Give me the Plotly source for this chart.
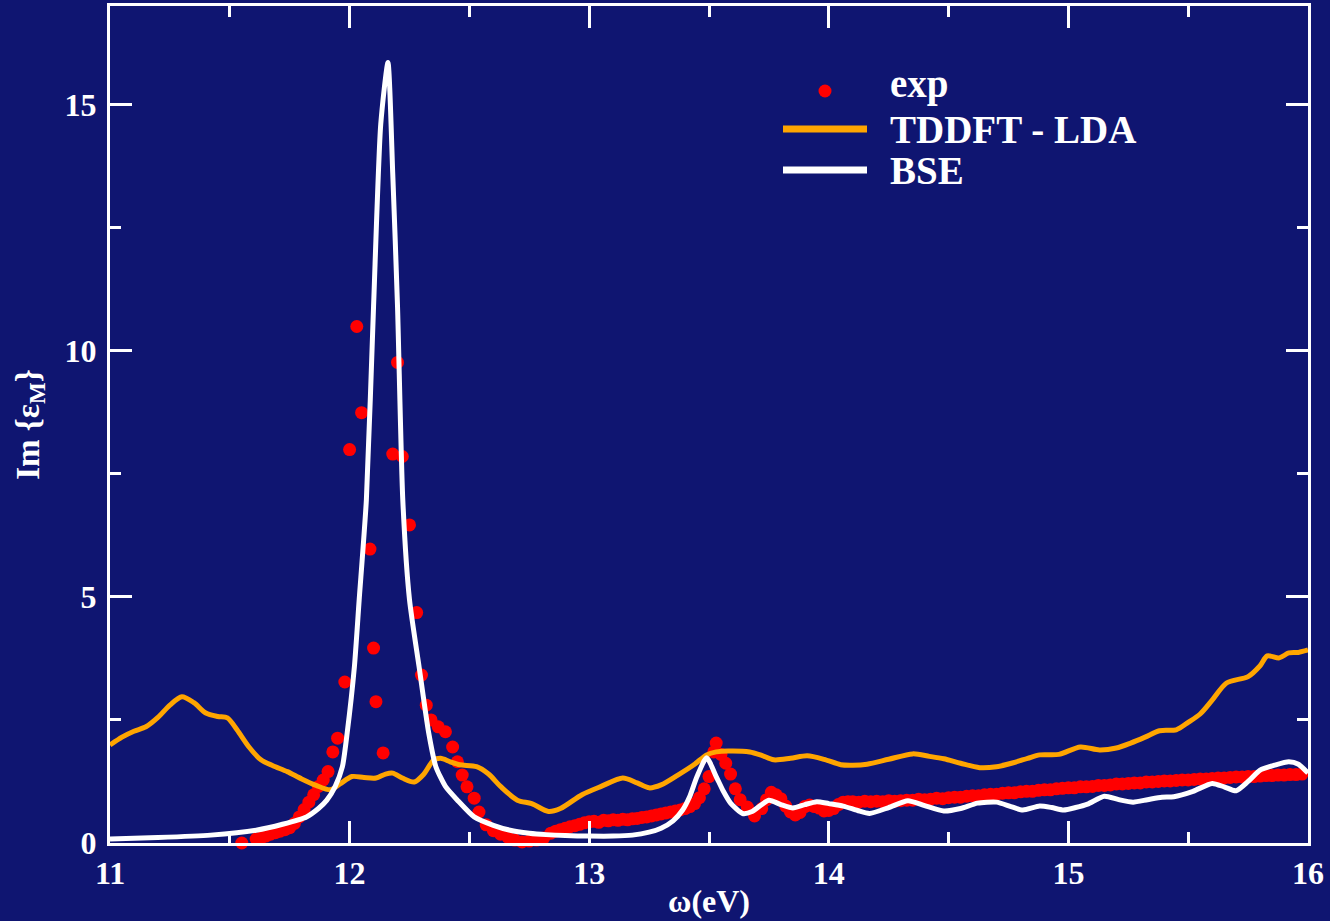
import plotly.graph_objects as go

# ---------------- data ----------------
exp_x = [11.55, 11.61, 11.63, 11.65, 11.67, 11.69, 11.71, 11.73, 11.75, 11.77, 11.79, 11.81,
         11.83, 11.85, 11.87, 11.89, 11.91, 11.93, 11.95, 11.98, 12.00, 12.03, 12.05, 12.085,
         12.10, 12.11, 12.14, 12.18, 12.20, 12.22, 12.25, 12.28, 12.30, 12.32, 12.34, 12.37,
         12.40, 12.43, 12.45, 12.47, 12.49, 12.52, 12.54, 12.57, 12.60, 12.63, 12.66, 12.69,
         12.72, 12.75, 12.78, 12.81, 12.84, 12.86, 12.88, 12.90, 12.92, 12.94, 12.96, 12.98,
         13.00, 13.02, 13.04, 13.06, 13.08, 13.10, 13.12, 13.14, 13.16, 13.18, 13.20, 13.22,
         13.24, 13.26, 13.28, 13.30, 13.32, 13.34, 13.36, 13.38, 13.40, 13.42, 13.44, 13.46,
         13.48, 13.50, 13.52, 13.53, 13.55, 13.57, 13.59, 13.61, 13.63, 13.66, 13.69, 13.72,
         13.74, 13.76, 13.78, 13.80, 13.82, 13.84, 13.86, 13.88, 13.90, 13.92, 13.94, 13.96,
         13.98, 14.00, 14.02, 14.04, 14.06, 14.08,
         14.100, 14.125, 14.150, 14.175, 14.200, 14.225, 14.250, 14.275, 14.300, 14.325,
         14.350, 14.375, 14.400, 14.425, 14.450, 14.475, 14.500, 14.525, 14.550, 14.575,
         14.600, 14.625, 14.650, 14.675, 14.700, 14.725, 14.750, 14.775, 14.800, 14.825,
         14.850, 14.875, 14.900, 14.925, 14.950, 14.975, 15.000, 15.025, 15.050, 15.075,
         15.100, 15.125, 15.150, 15.175, 15.200, 15.225, 15.250, 15.275, 15.300, 15.325,
         15.350, 15.375, 15.400, 15.425, 15.450, 15.475, 15.500, 15.525, 15.550, 15.575,
         15.600, 15.625, 15.650, 15.675, 15.700, 15.725, 15.750, 15.775, 15.800, 15.825,
         15.850, 15.875, 15.900, 15.925, 15.950, 15.975]
exp_y = [0.00, 0.08, 0.10, 0.14, 0.18, 0.21, 0.24, 0.27, 0.31, 0.40, 0.53, 0.68,
         0.83, 0.98, 1.15, 1.28, 1.45, 1.85, 2.13, 3.27, 7.99, 10.49, 8.74, 5.97,
         3.96, 2.87, 1.83, 7.90, 9.76, 7.85, 6.46, 4.68, 3.41, 2.80, 2.50, 2.36,
         2.26, 1.95, 1.65, 1.38, 1.14, 0.91, 0.63, 0.37, 0.25, 0.18, 0.12, 0.06,
         0.02, 0.04, 0.06, 0.10, 0.20, 0.24, 0.27, 0.30, 0.33, 0.35, 0.38, 0.41,
         0.43, 0.44, 0.42, 0.46, 0.45, 0.47, 0.46, 0.48, 0.47, 0.49, 0.50, 0.52,
         0.53, 0.55, 0.57, 0.59, 0.61, 0.63, 0.65, 0.67, 0.70, 0.74, 0.80, 0.92,
         1.10, 1.35, 1.85, 2.03, 1.80, 1.62, 1.40, 1.10, 0.88, 0.73, 0.55, 0.70,
         0.88, 1.03, 0.98, 0.90, 0.75, 0.63, 0.57, 0.62, 0.74, 0.77, 0.74, 0.71,
         0.65, 0.66, 0.70, 0.78, 0.83, 0.84,
         0.84, 0.83, 0.85, 0.84, 0.85, 0.84, 0.86, 0.85, 0.86, 0.87,
         0.87, 0.89, 0.88, 0.89, 0.91, 0.90, 0.92, 0.93, 0.93, 0.95,
         0.96, 0.96, 0.98, 0.99, 0.99, 1.01, 1.02, 1.02, 1.04, 1.05,
         1.05, 1.07, 1.08, 1.08, 1.10, 1.11, 1.12, 1.12, 1.14, 1.14,
         1.15, 1.17, 1.17, 1.18, 1.20, 1.20, 1.21, 1.22, 1.22, 1.24,
         1.24, 1.25, 1.26, 1.26, 1.27, 1.28, 1.28, 1.29, 1.30, 1.30,
         1.31, 1.32, 1.32, 1.33, 1.34, 1.34, 1.35, 1.35, 1.36, 1.37,
         1.37, 1.38, 1.38, 1.39, 1.39, 1.40]

tddft_x = [11.00, 11.05, 11.10, 11.15, 11.20, 11.25, 11.30, 11.35, 11.40, 11.45, 11.49, 11.53,
           11.58, 11.63, 11.68, 11.74, 11.80, 11.86, 11.92, 11.96, 12.01, 12.06, 12.11, 12.15,
           12.18, 12.22, 12.27, 12.31, 12.35, 12.38, 12.42, 12.46, 12.53, 12.58, 12.63, 12.70,
           12.76, 12.83, 12.88, 12.97, 13.05, 13.14, 13.20, 13.25, 13.30, 13.37, 13.44, 13.49,
           13.53, 13.58, 13.67, 13.72, 13.77, 13.84, 13.91, 13.98, 14.05, 14.10, 14.16, 14.25,
           14.35, 14.42, 14.48, 14.55, 14.63, 14.70, 14.77, 14.83, 14.88, 14.96, 15.05, 15.13,
           15.20, 15.26, 15.32, 15.38, 15.45, 15.50, 15.55, 15.60, 15.66, 15.75, 15.80, 15.83,
           15.88, 15.92, 15.96, 16.00]
tddft_y = [1.99, 2.15, 2.27, 2.36, 2.55, 2.80, 2.97, 2.85, 2.64, 2.57, 2.54, 2.30,
           1.95, 1.69, 1.57, 1.45, 1.30, 1.17, 1.08, 1.20, 1.35, 1.33, 1.32, 1.40,
           1.42, 1.32, 1.24, 1.40, 1.68, 1.72, 1.65, 1.59, 1.55, 1.40, 1.15, 0.87,
           0.80, 0.64, 0.70, 0.98, 1.15, 1.32, 1.22, 1.12, 1.18, 1.38, 1.60, 1.79,
           1.85, 1.87, 1.85, 1.78, 1.69, 1.72, 1.77, 1.70, 1.59, 1.58, 1.60, 1.70,
           1.81, 1.76, 1.71, 1.62, 1.53, 1.55, 1.63, 1.72, 1.79, 1.80, 1.95, 1.89,
           1.93, 2.03, 2.15, 2.28, 2.30, 2.45, 2.62, 2.90, 3.25, 3.38, 3.60, 3.80,
           3.76, 3.86, 3.87, 3.92]

bse_x = [11.00, 11.20, 11.42, 11.61, 11.72, 11.82, 11.87, 11.905, 11.94, 11.97, 11.99, 12.02,
         12.04, 12.07, 12.10, 12.13, 12.16, 12.18, 12.20, 12.222, 12.25, 12.29, 12.33, 12.36,
         12.40, 12.45, 12.52, 12.60, 12.67, 12.75, 12.82, 12.90, 13.00, 13.10, 13.18, 13.25,
         13.30, 13.35, 13.39, 13.42, 13.45, 13.49, 13.53, 13.56, 13.59, 13.64, 13.68, 13.75,
         13.80, 13.85, 13.90, 13.95, 14.00, 14.06, 14.12, 14.17, 14.25, 14.33, 14.40, 14.48,
         14.55, 14.62, 14.70, 14.76, 14.81, 14.88, 14.93, 14.98, 15.03, 15.08, 15.15, 15.21,
         15.27, 15.33, 15.39, 15.44, 15.52, 15.60, 15.65, 15.70, 15.75, 15.80, 15.86, 15.92,
         15.96, 16.00]
bse_y = [0.08, 0.11, 0.16, 0.26, 0.38, 0.53, 0.70, 0.87, 1.15, 1.55, 2.24, 3.58,
         4.94, 6.97, 10.90, 14.60, 15.85, 13.60, 10.90, 6.97, 4.94, 3.58, 2.24, 1.55,
         1.15, 0.87, 0.53, 0.36, 0.26, 0.20, 0.17, 0.15, 0.14, 0.14, 0.16, 0.22,
         0.30, 0.45, 0.67, 0.95, 1.35, 1.73, 1.35, 1.05, 0.81, 0.60, 0.64, 0.87,
         0.78, 0.71, 0.78, 0.84, 0.80, 0.75, 0.66, 0.60, 0.72, 0.86, 0.76, 0.65,
         0.70, 0.81, 0.83, 0.74, 0.67, 0.75, 0.72, 0.67, 0.72, 0.79, 0.95, 0.88,
         0.83, 0.88, 0.93, 0.94, 1.05, 1.21, 1.14, 1.06, 1.25, 1.48, 1.58, 1.65,
         1.60, 1.42]

legend_labels = ["exp", "TDDFT - LDA", "BSE"]

# ---------------- styling ----------------
BG = "#0f1571"
FONT = "Liberation Serif"
W, H = 1330, 921
ML, MR, MT, MB = 110, 22, 6, 78
PW, PH = W - ML - MR, H - MT - MB


def px(xp):
    return (xp - ML) / PW


def py(yp):
    return (H - MB - yp) / PH


fig = go.Figure()
fig.add_trace(go.Scatter(x=exp_x, y=exp_y, mode="markers", name=legend_labels[0],
                         marker=dict(color="#ff0000", size=13, line=dict(width=0)),
                         cliponaxis=False, showlegend=False))
fig.add_trace(go.Scatter(x=tddft_x, y=tddft_y, mode="lines", name=legend_labels[1],
                         line=dict(color="#ffa500", width=5, shape="spline", smoothing=0.8),
                         showlegend=False))
fig.add_trace(go.Scatter(x=bse_x, y=bse_y, mode="lines", name=legend_labels[2],
                         line=dict(color="#ffffff", width=5, shape="spline", smoothing=0.6),
                         showlegend=False))

axis_common = dict(
    showline=True, linecolor="white", linewidth=3, mirror="ticks",
    ticks="inside", ticklen=22, tickwidth=3, tickcolor="white",
    showgrid=False, zeroline=False, automargin=False,
    tickfont=dict(family=FONT, size=32, color="white", weight="bold"),
)

fig.update_xaxes(range=[11, 16], dtick=1, tick0=11,
                 minor=dict(dtick=0.5, ticks="inside", ticklen=11, tickwidth=3, tickcolor="white"),
                 title=dict(text="ω(eV)", standoff=0,
                            font=dict(family=FONT, size=32, color="white", weight="bold")),
                 **axis_common)
fig.update_yaxes(range=[0, 17], dtick=5, tick0=0, ticklabelstandoff=4,
                 minor=dict(dtick=2.5, ticks="inside", ticklen=11, tickwidth=3, tickcolor="white"),
                 title=dict(text="Im {ε<sub>M</sub>}", standoff=16,
                            font=dict(family=FONT, size=33, color="white", weight="bold")),
                 **axis_common)

# manual legend (paper coordinates)
shapes = [
    dict(type="circle", xref="paper", yref="paper", xsizemode="pixel", ysizemode="pixel",
         xanchor=px(825), yanchor=py(91), x0=-6.5, x1=6.5, y0=-6.5, y1=6.5,
         fillcolor="#ff0000", line=dict(width=0)),
    dict(type="line", xref="paper", yref="paper", x0=px(783), x1=px(867), y0=py(129), y1=py(129),
         line=dict(color="#ffa500", width=7)),
    dict(type="line", xref="paper", yref="paper", x0=px(783), x1=px(867), y0=py(170), y1=py(170),
         line=dict(color="#ffffff", width=7)),
]
annotations = []
for lab, yc in zip(legend_labels, [84, 129, 170]):
    annotations.append(dict(text=lab, xref="paper", yref="paper", x=px(888), y=py(yc),
                            xanchor="left", yanchor="middle", showarrow=False,
                            font=dict(family=FONT, size=39, color="white", weight="bold")))

fig.update_layout(
    width=W, height=H,
    margin=dict(l=ML, r=MR, t=MT, b=MB),
    paper_bgcolor=BG, plot_bgcolor=BG,
    shapes=shapes, annotations=annotations,
    showlegend=False,
)

fig.write_html("out.html",
               config={"displayModeBar": False},
               post_script="document.body.style.margin='0px';"
                           "document.body.style.background='" + BG + "';")
